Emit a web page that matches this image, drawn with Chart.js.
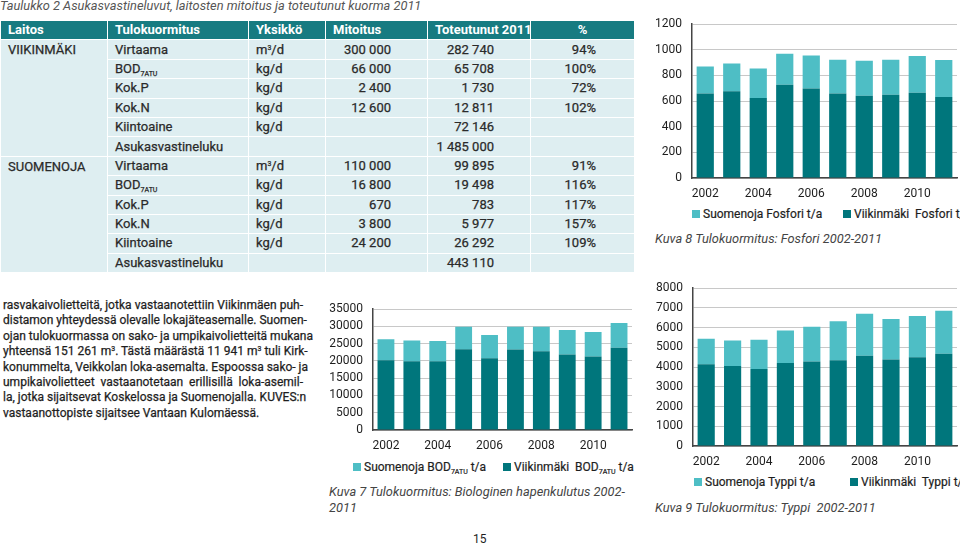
<!DOCTYPE html>
<html>
<head>
<meta charset="utf-8">
<script src="https://cdn.jsdelivr.net/npm/chart.js@4.4.1/dist/chart.umd.min.js"></script>
<style>
  body { margin: 0; width: 960px; height: 545px; position: relative; overflow: hidden; background: #fff;
         font-family: Roboto, "Open Sans", sans-serif; color: #1e1e1e; }
  .abs { position: absolute; white-space: nowrap; }
  .title { left: 0; top: -2px; font-size: 12.8px; line-height: 16px; font-style: italic; color: #555; }
  #tbl { position: absolute; left: 0; top: 20px; width: 634px; border-collapse: collapse; table-layout: fixed; font-size: 13px; }
  #tbl td, #tbl th { height: 19.4px; padding: 0 0 0 7px; border: 1.5px solid #fff; background: #deeef1; box-sizing: border-box;
                     line-height: 16px; text-align: left; font-weight: normal; white-space: nowrap; color: #2a2a2a; }
  #tbl td { -webkit-text-stroke: 0.25px #2a2a2a; }
  #tbl th { background: #177b81; color: #fff; font-weight: bold; }
  #tbl td.n { text-align: right; padding: 0 36px 0 0; }
  #tbl th.c { text-align: center; padding: 0; }
  #tbl td.plant { vertical-align: top; padding-top: 2px; }
  sub { font-size: 7px; vertical-align: -3px; line-height: 0; }
  sup { font-size: 7px; vertical-align: 4px; line-height: 0; }
  .para { left: 3px; top: 298px; width: 300px; font-size: 12px; line-height: 15.4px; -webkit-text-stroke: 0.25px #1e1e1e; }
  .para div { text-align: justify; text-align-last: justify; white-space: nowrap; }
  .para div.last { text-align-last: left; }
  .box { position: absolute; }
  .legend { font-size: 12px; line-height: 14px; -webkit-text-stroke: 0.2px #1e1e1e; }
  .sw { display: inline-block; width: 8px; height: 8px; margin-right: 3px; vertical-align: 0px; }
  .cap { font-size: 12.8px; line-height: 16px; font-style: italic; color: #444; }
</style>
</head>
<body>
<div class="abs title">Taulukko 2 Asukasvastineluvut, laitosten mitoitus ja toteutunut kuorma 2011</div>
<table id="tbl">
  <colgroup><col style="width:107px"><col style="width:141px"><col style="width:77px"><col style="width:102px"><col style="width:103px"><col style="width:104px"></colgroup>
  <thead><tr><th>Laitos</th><th>Tulokuormitus</th><th>Yksikkö</th><th>Mitoitus</th><th>Toteutunut 2011</th><th class="c">%</th></tr></thead>
  <tbody id="tbody"></tbody>
</table>

<div class="abs para">
  <div>rasvakaivolietteitä, jotka vastaanotettiin Viikinmäen puh-</div>
  <div>distamon yhteydessä olevalle lokajäteasemalle. Suomen-</div>
  <div>ojan tulokuormassa on sako- ja umpikaivolietteitä mukana</div>
  <div>yhteensä 151 261 m<sup>3</sup>. Tästä määrästä 11 941 m<sup>3</sup> tuli Kirk-</div>
  <div>konummelta, Veikkolan loka-asemalta. Espoossa sako- ja</div>
  <div>umpikaivolietteet vastaanotetaan erillisillä loka-asemil-</div>
  <div>la, jotka sijaitsevat Koskelossa ja Suomenojalla. KUVES:n</div>
  <div class="last">vastaanottopiste sijaitsee Vantaan Kulomäessä.</div>
</div>

<!-- Kuva 8: fosfori -->
<div class="box" style="left:655px;top:7px;width:305px;height:196px"><canvas id="fosfori"></canvas></div>
<div class="abs legend" style="left:692px;top:207px"><span class="sw" style="background:#4ebec5"></span>Suomenoja Fosfori t/a</div>
<div class="abs legend" style="left:843px;top:207px"><span class="sw" style="background:#00767c"></span>Viikinmäki&nbsp; Fosfori t/a</div>
<div class="abs cap" style="left:655px;top:231px">Kuva 8 Tulokuormitus: Fosfori 2002-2011</div>

<!-- Kuva 7: BOD -->
<div class="box" style="left:320px;top:292px;width:315px;height:163px"><canvas id="bod"></canvas></div>
<div class="abs legend" style="left:353px;top:460px"><span class="sw" style="background:#4ebec5"></span>Suomenoja BOD<sub>7ATU</sub> t/a</div>
<div class="abs legend" style="left:503px;top:460px"><span class="sw" style="background:#00767c"></span>Viikinmäki&nbsp; BOD<sub>7ATU</sub> t/a</div>
<div class="abs cap" style="left:329px;top:484px">Kuva 7 Tulokuormitus: Biologinen hapenkulutus 2002-<br>2011</div>

<!-- Kuva 9: typpi -->
<div class="box" style="left:648px;top:271px;width:312px;height:200px"><canvas id="typpi"></canvas></div>
<div class="abs legend" style="left:694px;top:475px"><span class="sw" style="background:#4ebec5"></span>Suomenoja Typpi t/a</div>
<div class="abs legend" style="left:850px;top:475px"><span class="sw" style="background:#00767c"></span>Viikinmäki&nbsp; Typpi t/a</div>
<div class="abs cap" style="left:655px;top:500px">Kuva 9 Tulokuormitus: Typpi&nbsp; 2002-2011</div>

<div class="abs" style="left:473px;top:532px;font-size:12px;line-height:15px">15</div>

<script>
// Table 2 contents
const plants = ['VIIKINMÄKI', 'SUOMENOJA'];
const params = ['Virtaama', 'BOD<sub>7ATU</sub>', 'Kok.P', 'Kok.N', 'Kiintoaine', 'Asukasvastineluku'];
const units = ['m<sup>3</sup>/d', 'kg/d', 'kg/d', 'kg/d', 'kg/d', ''];
const designViikinmaki = ['300 000', '66 000', '2 400', '12 600', '', ''];
const actualViikinmaki = ['282 740', '65 708', '1 730', '12 811', '72 146', '1 485 000'];
const pctViikinmaki = ['94%', '100%', '72%', '102%', '', ''];
const designSuomenoja = ['110 000', '16 800', '670', '3 800', '24 200', ''];
const actualSuomenoja = ['99 895', '19 498', '783', '5 977', '26 292', '443 110'];
const pctSuomenoja = ['91%', '116%', '117%', '157%', '109%', ''];

// Chart series, t/a
const years = ['2002', '2003', '2004', '2005', '2006', '2007', '2008', '2009', '2010', '2011'];
const fosforiViikinmaki = [660, 676, 624, 728, 699, 660, 642, 650, 666, 632];
const fosforiSuomenoja = [210, 218, 231, 241, 257, 262, 272, 272, 285, 288];
const bodViikinmaki = [20200, 19900, 19900, 23400, 20800, 23300, 22800, 21900, 21300, 23800];
const bodSuomenoja = [6100, 6000, 5900, 6500, 6700, 6600, 7100, 7100, 7100, 7200];
const typpiViikinmaki = [4140, 4060, 3910, 4210, 4280, 4350, 4580, 4380, 4500, 4680];
const typpiSuomenoja = [1300, 1290, 1480, 1650, 1760, 1980, 2130, 2060, 2090, 2180];

const DARK = '#00767c';
const LIGHT = '#4ebec5';
const FONT = 'Roboto, "Open Sans", sans-serif';

// build table body
const tbody = document.getElementById('tbody');
const groups = [
    [designViikinmaki, actualViikinmaki, pctViikinmaki],
    [designSuomenoja, actualSuomenoja, pctSuomenoja],
];
groups.forEach(([design, actual, pct], g) => {
    params.forEach((p, i) => {
        const tr = document.createElement('tr');
        let html = '';
        if (i === 0) html += `<td class="plant" rowspan="${params.length}">${plants[g]}</td>`;
        html += `<td>${p}</td><td>${units[i]}</td>`;
        html += `<td class="n">${design[i]}</td><td class="n">${actual[i]}</td><td class="n" style="padding-right:38px">${pct[i]}</td>`;
        tr.innerHTML = html;
        tbody.appendChild(tr);
    });
});

function stackedBars(id, viik, suom, yMax, yStep, axisW) {
    return new Chart(document.getElementById(id), {
        type: 'bar',
        data: {
            labels: years,
            datasets: [
                { label: 'Viikinmäki', data: viik, backgroundColor: DARK, barPercentage: 0.65, categoryPercentage: 1 },
                { label: 'Suomenoja', data: suom, backgroundColor: LIGHT, barPercentage: 0.65, categoryPercentage: 1 },
            ],
        },
        options: {
            responsive: true,
            maintainAspectRatio: false,
            animation: false,
            layout: { padding: { top: 0, right: 3 } },
            plugins: {
                legend: { display: false },
                tooltip: { enabled: false },
            },
            scales: {
                x: {
                    stacked: true,
                    grid: { display: false, drawTicks: false },
                    border: { color: '#444', width: 1.5 },
                    ticks: {
                        autoSkip: false,
                        maxRotation: 0,
                        padding: 9,
                        color: '#1e1e1e',
                        font: { size: 12, family: FONT },
                        callback: (v, i) => (i % 2 === 0 ? years[i] : ''),
                    },
                    afterFit: (s) => { s.height = 25; },
                },
                y: {
                    stacked: true,
                    min: 0,
                    max: yMax,
                    grid: { color: '#c8c8c8', drawTicks: false },
                    border: { color: '#444', width: 1.5 },
                    ticks: {
                        stepSize: yStep,
                        autoSkip: false,
                        padding: 10,
                        color: '#1e1e1e',
                        font: { size: 12, family: FONT },
                        callback: (v) => String(v),
                    },
                    afterFit: (s) => { s.width = axisW; },
                },
            },
        },
    });
}

stackedBars('fosfori', fosforiViikinmaki, fosforiSuomenoja, 1200, 200, 37);
stackedBars('bod', bodViikinmaki, bodSuomenoja, 35000, 5000, 53);
stackedBars('typpi', typpiViikinmaki, typpiSuomenoja, 8000, 1000, 45);
</script>
</body>
</html>
